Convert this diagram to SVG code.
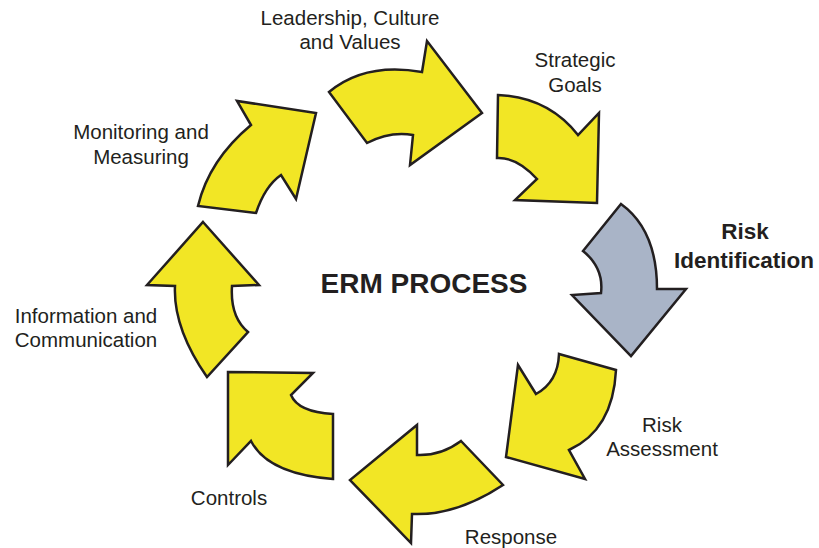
<svg xmlns="http://www.w3.org/2000/svg" width="819" height="548" viewBox="0 0 819 548">
<style>
.arr{fill:#F2E625;stroke:#231F20;stroke-width:2.5;stroke-linejoin:miter}
.gray{fill:#A9B4C7}
.lbl{font-family:"Liberation Sans",Arial,sans-serif;font-size:20.5px;fill:#231F20;text-anchor:middle}
.b{font-weight:bold}
</style>
<rect width="819" height="548" fill="#fff"/>
<g id="connectors">
<g id="arrow-leadership"><path class="arr" d="M329,92 Q365,62 422,72 L427,41 L482,113 L410,165 L413,135 Q390,131 367,143 Z"/></g>
<g id="arrow-strategic"><path class="arr" d="M498,95 Q548,97 578,135 L599,113 L597,203 L515,200 L537,179 Q517,157 497,158 Z"/></g>
<g id="arrow-riskid"><path class="arr gray" d="M621,204 Q657,230 657,289 L686,289 L631,356 L572,295 L601,293 Q604,268 583,251 Z"/></g>
<g id="arrow-assessment"><path class="arr" d="M559,354 L616,370 Q613,430 569,450 L585,479 L506,457 L518,365 L536,394 Q558,382 559,354 Z"/></g>
<g id="arrow-response"><path class="arr" d="M461,441 L503,485 Q456,516 412,514 L411,543 L350,480 L417,425 L417,455 Q441,456 461,441 Z"/></g>
<g id="arrow-controls"><path class="arr" d="M228,372 L313,373 L291,395 Q298,412 333,414 L333,479 Q268,474 251,441 L228,465 Z"/></g>
<g id="arrow-information"><path class="arr" d="M203,222 L259,285 L232,286 Q230,317 248,332 L207,377 Q173,328 175,286 L147,285 Z"/></g>
<g id="arrow-monitoring"><path class="arr" d="M198,206 Q209,160 251,125 L237,101 L316,113 L296,199 L281,175 Q265,186 256,213 Z"/></g>
</g>
<g id="center"><text class="lbl b" x="424" y="293" style="font-size:28px">ERM PROCESS</text></g>
<g id="label-leadership"><text class="lbl" x="350" y="25">Leadership, Culture</text><text class="lbl" x="350" y="49">and Values</text></g>
<g id="label-strategic"><text class="lbl" x="575" y="67">Strategic</text><text class="lbl" x="575" y="92">Goals</text></g>
<g id="label-riskid"><text class="lbl b" x="745" y="239" style="font-size:22.5px">Risk</text><text class="lbl b" x="744" y="268" style="font-size:22.5px">Identification</text></g>
<g id="label-assessment"><text class="lbl" x="662" y="432">Risk</text><text class="lbl" x="662" y="456">Assessment</text></g>
<g id="label-response"><text class="lbl" x="511" y="544">Response</text></g>
<g id="label-controls"><text class="lbl" x="229" y="505">Controls</text></g>
<g id="label-information"><text class="lbl" x="86" y="323">Information and</text><text class="lbl" x="86" y="347">Communication</text></g>
<g id="label-monitoring"><text class="lbl" x="141" y="139">Monitoring and</text><text class="lbl" x="141" y="164">Measuring</text></g>
</svg>
